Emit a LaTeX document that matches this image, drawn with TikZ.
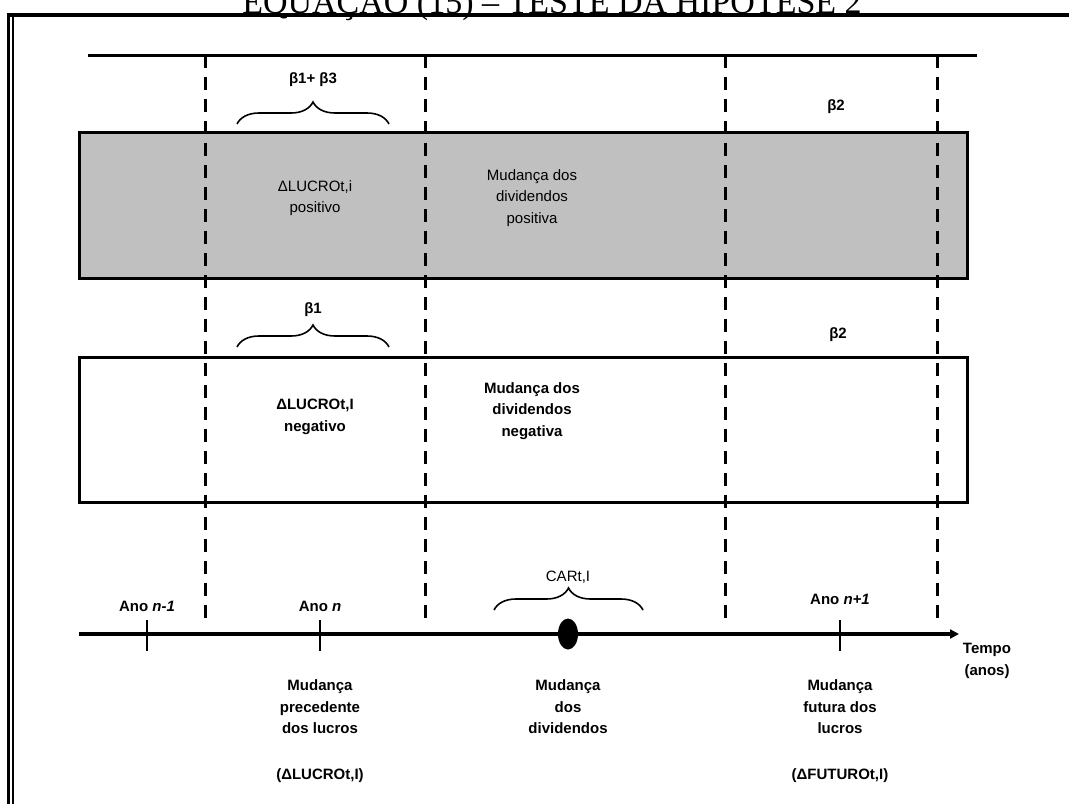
\documentclass[tikz,border=0pt]{standalone}
\usepackage{fontspec}
\setmainfont{Liberation Sans}
\newfontfamily\titlefont{Liberation Serif}
\usetikzlibrary{arrows.meta,decorations.pathreplacing,shapes.geometric}
\begin{document}
\begin{tikzpicture}[x=1pt,y=-1pt,
  txt/.style={align=center,inner sep=0pt,font=\fontsize{15}{21.5}\selectfont},
  btxt/.style={align=center,inner sep=0pt,font=\fontsize{15}{21.5}\selectfont\bfseries},
  band/.style={draw=black,line width=3pt},
  divider/.style={line width=3pt,dash pattern=on 13pt off 9pt},
  bracket/.style={line width=1.6pt,decorate,decoration={brace,amplitude=22pt,aspect=0.5}},
  tick/.style={line width=2pt},
]
\useasboundingbox (0,0) rectangle (1069,804);
\fill[white] (0,0) rectangle (1069,804);

% page frame and caption
\node[anchor=base,inner sep=0pt,font=\titlefont\fontsize{34}{36}\selectfont] (title) at (552,13) {EQUAÇÃO (15) – TESTE DA HIPÓTESE 2};
\draw[line width=4pt] (7,15) -- (1069,15);
\draw[line width=3.5pt] (8.5,13) -- (8.5,804);
\draw[line width=2pt] (13,17) -- (13,804);

% top rule
\coordinate (ruleL) at (88,55);
\coordinate (ruleR) at (977,55);
\draw[line width=3pt] (ruleL) -- (ruleR);

% the two bands
\node[band,fill={rgb,255:red,192;green,192;blue,192},minimum width=888pt,minimum height=146pt,inner sep=0pt] (posband) at (523,205) {};
\node[band,fill=white,minimum width=888pt,minimum height=145pt,inner sep=0pt] (negband) at (523,429.5) {};

% period dividers
\foreach \x [count=\i] in {205,425,725,937}{
  \coordinate (dtop\i) at (\x,55);
  \coordinate (dbot\i) at (\x,620);
  \draw[divider] (dtop\i) -- (dbot\i);
}

% positive-change band
\node[btxt] (b13) at (313,80) {β1+ β3};
\coordinate (br1a) at (237,124);
\coordinate (br1b) at (389,124);
\draw[bracket] (br1a) -- (br1b);
\node[btxt] (b2a) at (836,107) {β2};
\node[txt] (lucpos) at (315,198) {ΔLUCROt,i\\positivo};
\node[txt] (divpos) at (532,198) {Mudança dos\\dividendos\\positiva};

% negative-change band
\node[btxt] (b1) at (313,310) {β1};
\coordinate (br2a) at (237,347);
\coordinate (br2b) at (389,347);
\draw[bracket] (br2a) -- (br2b);
\node[btxt] (b2b) at (838,335) {β2};
\node[btxt] (lucneg) at (315,417) {ΔLUCROt,I\\negativo};
\node[btxt] (divneg) at (532,411) {Mudança dos\\dividendos\\negativa};

% time axis
\coordinate (axL) at (79,634);
\coordinate (axR) at (959,634);
\draw[line width=3.5pt,-{Triangle[length=9pt,width=9pt]}] (axL) -- (axR);
\foreach \x/\n in {147/t1,320/t2,840/t3}{
  \coordinate (\n a) at (\x,620);
  \coordinate (\n b) at (\x,651);
  \draw[tick] (\n a) -- (\n b);
}
\node[ellipse,fill=black,minimum width=20pt,minimum height=31pt,inner sep=0pt] (event) at (568,634) {};

\node[btxt] (anoA) at (147,606) {Ano \textit{n-1}};
\node[btxt] (anoB) at (320,606) {Ano \textit{n}};
\node[btxt] (anoC) at (840,599) {Ano \textit{n+1}};
\node[btxt] (tempo) at (987,661) {Tempo\\(anos)};

\node[txt] (car) at (568,577) {CARt,I};
\coordinate (br3a) at (494,610);
\coordinate (br3b) at (643,610);
\draw[bracket] (br3a) -- (br3b);

% descriptions under the axis
\node[btxt] (prec) at (320,707) {Mudança\\precedente\\dos lucros};
\node[btxt] (precv) at (320,776) {(ΔLUCROt,I)};
\node[btxt] (divd) at (568,707) {Mudança\\dos\\dividendos};
\node[btxt] (fut) at (840,707) {Mudança\\futura dos\\lucros};
\node[btxt] (futv) at (840,776) {(ΔFUTUROt,I)};
\end{tikzpicture}
\end{document}
